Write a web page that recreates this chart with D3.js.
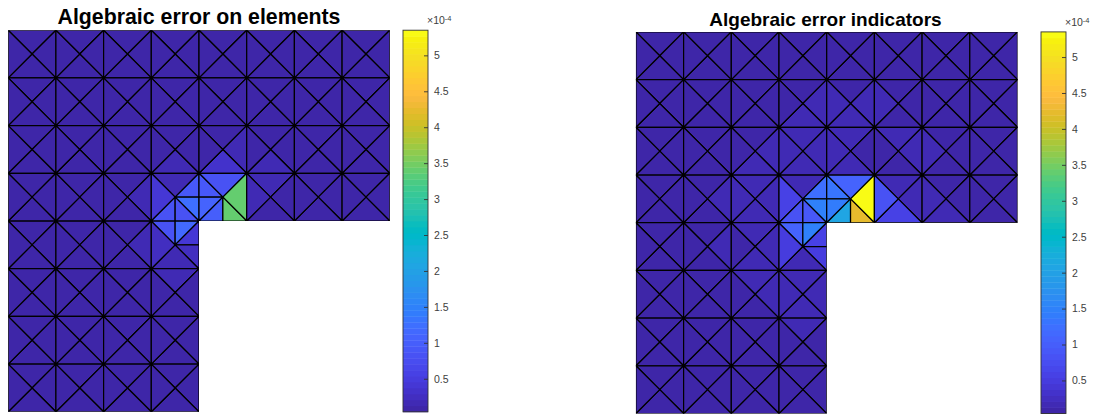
<!DOCTYPE html>
<html><head><meta charset="utf-8">
<script src="https://cdn.jsdelivr.net/npm/d3@7/dist/d3.min.js"></script>
<style>html,body{margin:0;padding:0;background:#fff}svg{display:block}</style>
</head><body><svg id="c" width="1100" height="415"></svg>
<script>
// Parula colormap, 64 levels
const parula = [[.2422,.1504,.6603],[.2504,.165,.7076],[.2578,.1818,.7511],[.2647,.1978,.7952],[.2706,.2147,.8364],[.2751,.2342,.871],[.2783,.2559,.8991],[.2803,.2782,.9221],[.2813,.3006,.9414],[.281,.3228,.9579],[.2795,.3447,.9717],[.276,.3667,.9829],[.2699,.3892,.9906],[.2602,.4123,.9952],[.244,.4358,.9988],[.2206,.4603,.9973],[.1963,.4847,.9892],[.1834,.5074,.9798],[.1786,.5289,.9682],[.1764,.5499,.952],[.1687,.5703,.9359],[.154,.5902,.9218],[.146,.6091,.9079],[.138,.6276,.8973],[.1248,.6459,.8883],[.1113,.6635,.8763],[.0952,.6798,.8598],[.0689,.6948,.8394],[.0297,.7082,.8163],[.0036,.7203,.7917],[.0067,.7312,.766],[.0433,.7411,.7394],[.0964,.75,.712],[.1408,.7584,.6842],[.1717,.767,.6554],[.1938,.7758,.6251],[.2161,.7843,.5923],[.247,.7918,.5567],[.2906,.7973,.5188],[.3406,.8008,.4789],[.3909,.8029,.4354],[.4456,.8024,.3909],[.5044,.7993,.348],[.5616,.7942,.3045],[.6174,.7876,.2612],[.672,.7793,.2227],[.7242,.7698,.191],[.7738,.7598,.1646],[.8203,.7498,.1535],[.8634,.7406,.1596],[.9035,.733,.1774],[.9393,.7288,.21],[.9728,.7298,.2394],[.9956,.7434,.2371],[.997,.7659,.2199],[.9952,.7861,.1996],[.9892,.8086,.1811],[.9786,.8297,.1665],[.9676,.8515,.1521],[.961,.8746,.1373],[.9597,.8979,.1154],[.9628,.9204,.0877],[.9691,.945,.0583],[.9769,.9839,.0805]];

// Colour range and colourbar ticks (units of 1e-4)
const colorDomain = [0.04, 5.35];
const barTicks = [0.5, 1, 1.5, 2, 2.5, 3, 3.5, 4, 4.5, 5];
const titles = ["Algebraic error on elements", "Algebraic error indicators"];

// L-shaped domain outline in mesh coordinates
const outline = [[0,0],[8,0],[8,4],[4,4],[4,8],[0,8]];

// Coarse mesh values: row -> cell -> [top, right, bottom, left] triangle. null = subdivided.
const leftCoarse = [
 [[.06,.06,.06,.06],[.06,.06,.06,.06],[.06,.06,.06,.06],[.06,.06,.06,.06],[.06,.06,.07,.06],[.06,.06,.06,.06],[.06,.06,.06,.06],[.06,.06,.06,.06]],
 [[.06,.06,.07,.06],[.06,.07,.07,.07],[.07,.07,.07,.07],[.07,.07,.08,.07],[.07,.07,.08,.07],[.07,.07,.07,.07],[.06,.06,.06,.07],[.06,.06,.06,.06]],
 [[.07,.07,.08,.06],[.07,.08,.08,.08],[.08,.1,.1,.08],[.08,.12,.14,.1],[.1,.14,.32,.12],[.1,.1,.13,.12],[.07,.07,.08,.09],[.06,.06,.07,.07]],
 [[.08,.08,.07,.06],[.08,.1,.1,.08],[.1,.14,.1,.1],[.17,null,null,.42],[.85,3.4,null,null],[.13,.12,.12,.14],[.08,.07,.08,.1],[.07,.06,.06,.07]],
 [[.07,.08,.08,.07],[.1,.12,.09,.08],[.1,.17,.11,.09],[null,null,.17,.24]],
 [[.08,.07,.07,.06],[.09,.08,.08,.07],[.11,.11,.08,.08],[.15,.12,.1,.11]],
 [[.07,.06,.06,.06],[.08,.07,.07,.06],[.08,.08,.07,.07],[.1,.08,.07,.08]],
 [[.06,.06,.06,.06],[.07,.06,.06,.06],[.07,.06,.06,.06],[.07,.06,.06,.06]]
];
const rightCoarse = [
 [[.06,.06,.07,.06],[.06,.06,.07,.06],[.06,.07,.07,.06],[.06,.07,.08,.07],[.06,.07,.08,.07],[.06,.07,.07,.07],[.06,.06,.06,.07],[.06,.06,.06,.06]],
 [[.07,.07,.07,.06],[.07,.08,.09,.07],[.08,.1,.11,.08],[.09,.13,.14,.1],[.09,.13,.14,.13],[.08,.1,.1,.13],[.07,.08,.08,.1],[.06,.06,.07,.08]],
 [[.07,.1,.09,.06],[.09,.12,.11,.1],[.11,.2,.14,.12],[.14,.14,.17,.2],[.14,.06,.17,.14],[.13,.13,.09,.06],[.08,.07,.08,.13],[.07,.06,.07,.07]],
 [[.09,.08,.08,.06],[.11,.17,.12,.08],[.14,.2,.14,.17],[.17,null,null,.58],[1.05,5.35,null,null],[.17,.17,.55,.85],[.09,.08,.13,.17],[.07,.06,.08,.08]],
 [[.08,.1,.08,.07],[.12,.17,.11,.1],[.14,.2,.14,.11],[null,null,.17,.48]],
 [[.08,.08,.07,.06],[.11,.11,.09,.08],[.14,.17,.12,.11],[.17,.17,.14,.2]],
 [[.07,.07,.06,.06],[.09,.08,.07,.07],[.12,.12,.09,.08],[.14,.11,.1,.12]],
 [[.06,.06,.06,.06],[.07,.07,.06,.06],[.09,.08,.07,.07],[.1,.08,.08,.08]]
];

// Refined triangles near the re-entrant corner, vertices in mesh coordinates
const refinedTriangles = [
 [[4,3],[3.5,3.5],[4,3.5]], [[3.5,3.5],[4,3.5],[4,4]],
 [[3,4],[3.5,4],[3.5,3.5]], [[3.5,3.5],[3.5,4],[4,4]],
 [[4,3],[4,3.5],[4.5,3.5]], [[4,3.5],[4,4],[4.5,3.5]],
 [[4,4],[4.5,4],[4.5,3.5]], [[4.5,3.5],[4.5,4],[5,4]],
 [[3,4],[3.5,4],[3.5,4.5]], [[3.5,4],[4,4],[3.5,4.5]],
 [[4,4],[4,4.5],[3.5,4.5]], [[4,4.5],[4,5],[3.5,4.5]]
];
const leftRefined  = [0.95, 1.22, 0.8, 0.82, 0.95, 1.05, 1.0, 3.4, 0.85, 1.2, 0.42, 0.25];
const rightRefined = [1.25, 1.47, 0.85, 0.88, 1.35, 1.45, 2.05, 4.2, 1.05, 1.47, 0.6, 0.5];

const svg = d3.select("#c");
const panels = [
 {x0:8.2, y0:30.2, w:381.6, barX:403, barW:25, title:titles[0], coarse:leftCoarse, refined:leftRefined, tx:199, fs:21.3, ty:23.5},
 {x0:635.9, y0:31.9, w:381.6, barX:1041, barW:25, title:titles[1], coarse:rightCoarse, refined:rightRefined, tx:825.5, fs:19, ty:26}
];
const colorIndex = v => {
  const i = Math.floor((v - colorDomain[0]) / (colorDomain[1] - colorDomain[0]) * parula.length);
  return Math.max(0, Math.min(parula.length - 1, i));
};
const colorOf = v => {
  const c = parula[colorIndex(v)];
  return d3.rgb(c[0] * 255, c[1] * 255, c[2] * 255).formatHex();
};

panels.forEach((p, pi) => {
  const x = d3.scaleLinear().domain([0, 8]).range([p.x0, p.x0 + p.w]);
  const y = d3.scaleLinear().domain([0, 8]).range([p.y0, p.y0 + p.w]);
  const clipId = "dom" + pi;
  svg.append("clipPath").attr("id", clipId).append("polygon")
    .attr("points", outline.map(q => x(q[0]) + "," + y(q[1])).join(" "));
  const g = svg.append("g").attr("clip-path", `url(#${clipId})`);
  const tris = [];
  p.coarse.forEach((row, r) => row.forEach((cell, c) => {
    const ctr = [c + .5, r + .5], a = [c, r], b = [c + 1, r], d = [c + 1, r + 1], e = [c, r + 1];
    [[a, b], [b, d], [d, e], [e, a]].forEach((edge, k) => {
      if (cell[k] !== null) tris.push({pts: [edge[0], edge[1], ctr], v: cell[k]});
    });
  }));
  refinedTriangles.forEach((t, i) => tris.push({pts: t, v: p.refined[i]}));
  g.selectAll("polygon").data(tris).join("polygon")
    .attr("points", d => d.pts.map(q => x(q[0]) + "," + y(q[1])).join(" "))
    .attr("fill", d => colorOf(d.v))
    .attr("stroke", "#000").attr("stroke-width", 1.25).attr("stroke-linejoin", "round");

  // title
  svg.append("text").attr("x", p.tx).attr("y", p.ty).attr("text-anchor", "middle")
    .attr("font-family", "'Liberation Sans',Arial,sans-serif").attr("font-weight", "bold")
    .attr("font-size", p.fs).attr("fill", "#000").text(p.title);

  // colourbar
  const bar = d3.scaleLinear().domain(colorDomain).range([p.y0 + p.w, p.y0]);
  const bg = svg.append("g");
  const step = (colorDomain[1] - colorDomain[0]) / parula.length;
  bg.selectAll("rect").data(parula).join("rect")
    .attr("x", p.barX).attr("width", p.barW)
    .attr("y", (d, i) => bar(colorDomain[0] + (i + 1) * step))
    .attr("height", (d, i) => bar(colorDomain[0] + i * step) - bar(colorDomain[0] + (i + 1) * step) + .4)
    .attr("fill", d => d3.rgb(d[0] * 255, d[1] * 255, d[2] * 255).formatHex());
  bg.append("rect").attr("x", p.barX).attr("y", p.y0).attr("width", p.barW).attr("height", p.w)
    .attr("fill", "none").attr("stroke", "#333").attr("stroke-width", .9);
  const ax = d3.axisRight(bar).tickValues(barTicks).tickFormat(d3.format("~g"))
    .tickSizeInner(-4).tickSizeOuter(0).tickPadding(6);
  const ag = svg.append("g").attr("transform", `translate(${p.barX + p.barW},0)`).call(ax);
  ag.select(".domain").remove();
  ag.selectAll("line").attr("stroke", "#333").attr("stroke-width", .9);
  ag.selectAll("text").attr("fill", "#404040").attr("font-size", 10.5)
    .attr("font-family", "'Liberation Sans',Arial,sans-serif");
  const ex = svg.append("text").attr("x", p.barX + p.barW - 1).attr("y", p.y0 - 6)
    .attr("font-family", "'Liberation Sans',Arial,sans-serif").attr("font-size", 10.5).attr("fill", "#404040");
  ex.append("tspan").text("×10");
  ex.append("tspan").attr("font-size", 7.5).attr("dy", -3).text("-4");
});
</script></body></html>
